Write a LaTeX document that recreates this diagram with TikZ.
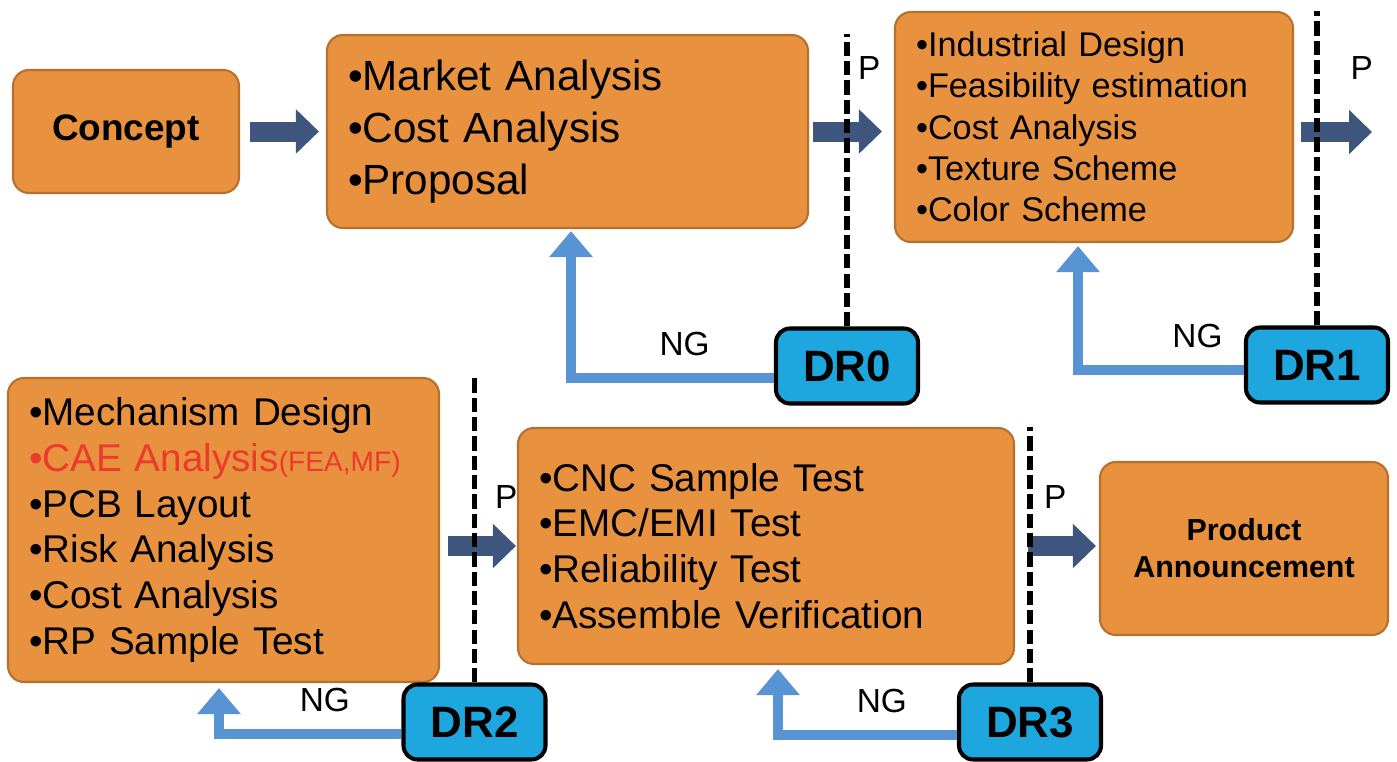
\documentclass[tikz,border=0pt]{standalone}
\usepackage{fontspec}
\setmainfont{Liberation Sans}
\usetikzlibrary{arrows.meta}
\definecolor{boxorange}{RGB}{232,145,62}
\definecolor{boxedge}{RGB}{184,112,46}
\definecolor{drblue}{RGB}{30,167,222}
\definecolor{passblue}{RGB}{62,85,125}
\definecolor{ngblue}{RGB}{88,148,212}
\definecolor{caered}{RGB}{236,58,44}

\begin{document}
\begin{tikzpicture}[
  stage/.style={draw=boxedge,fill=boxorange,line width=1.2pt,rounded corners=.32cm,
    inner xsep=.42cm,inner ysep=0pt,align=left},
  review/.style={draw=black,fill=drblue,line width=2.3pt,rounded corners=.28cm,
    font=\fontsize{25}{30}\selectfont\bfseries,minimum width=2.84cm,minimum height=1.5cm},
  passarrow/.style={passblue,line width=.4cm,-{Triangle[width=.86cm,length=.46cm]}},
  ngarrow/.style={ngblue,line width=.2cm,-{Triangle[width=.84cm,length=.52cm]}},
  gate/.style={line width=3pt,dash pattern=on 8pt off 3pt},
  lbl/.style={text=black,font=\fontsize{19}{23}\selectfont,inner sep=0pt}]
  \useasboundingbox (0,0) rectangle (27.94,-15.24);

  \node[stage,minimum width=4.52cm,minimum height=2.46cm,align=center,
    font=\fontsize{21}{25}\selectfont\bfseries] (concept) at (2.52,-2.63) {Concept};
  \node[stage,text width=8.78cm,minimum height=3.86cm,font=\fontsize{24}{29.5}\selectfont]
    (market) at (11.35,-2.63) {•Market Analysis\\•Cost Analysis\\•Proposal};
  \node[stage,text width=7.12cm,minimum height=4.6cm,font=\fontsize{19.5}{23.5}\selectfont]
    (industrial) at (21.88,-2.54) {•Industrial Design\\•Feasibility estimation\\
    •Cost Analysis\\•Texture Scheme\\•Color Scheme};
  \node[stage,text width=7.78cm,minimum height=6.08cm,font=\fontsize{22}{26}\selectfont]
    (mech) at (4.47,-10.6) {•Mechanism Design\\
    {\color{caered}•CAE Analysis{\fontsize{16}{26}\selectfont(FEA,MF)}}\\
    •PCB Layout\\•Risk Analysis\\•Cost Analysis\\•RP Sample Test};
  \node[stage,text width=9.08cm,minimum height=4.72cm,font=\fontsize{22}{26}\selectfont]
    (test) at (15.32,-10.92) {•CNC Sample Test\\•EMC/EMI Test\\•Reliability Test\\
    •Assemble Verification};
  \node[stage,minimum width=5.76cm,minimum height=3.46cm,align=center,
    font=\fontsize{17.3}{21}\selectfont\bfseries] (product) at (24.88,-10.97)
    {Product\\Announcement};

  \node[review] (dr0) at (16.94,-7.32) {DR0};
  \node[review] (dr1) at (26.34,-7.30) {DR1};
  \node[review] (dr2) at (9.49,-14.44) {DR2};
  \node[review] (dr3) at (20.6,-14.44) {DR3};
  \coordinate (next) at (27.44,-2.64);

  \draw[passarrow,shorten <=.2cm,shorten >=.14cm] (concept) -- (market);
  \draw[passarrow,shorten <=.08cm,shorten >=.24cm] (market.east)
    -- node[lbl,pos=.71,above=24pt] {P} (market.east -| industrial.west);
  \draw[passarrow,shorten <=.14cm] (industrial.east |- next)
    -- node[lbl,pos=.87,above=24pt] {P} (next);
  \draw[passarrow,shorten <=.16cm,shorten >=.02cm] (mech.east |- test.west)
    -- node[lbl,pos=.86,above=15.6pt] {P} (test.west);
  \draw[passarrow,shorten <=.26cm,shorten >=.06cm] (test.east)
    -- node[lbl,pos=.48,above=15.6pt] {P} (test.east -| product.west);

  \draw[ngarrow,shorten >=.04cm] ([yshift=-.24cm]dr0.west)
    -| node[lbl,pos=.22,above=10pt] {NG} ([xshift=.07cm]market.south);
  \draw[ngarrow,shorten >=.06cm] ([yshift=-.1cm]dr1.west)
    -| node[lbl,pos=.14,above=10pt] {NG} ([xshift=-.32cm]industrial.south);
  \draw[ngarrow,shorten >=.1cm] ([yshift=-.24cm]dr2.west)
    -| node[lbl,pos=.21,above=10pt] {NG} ([xshift=-.09cm]mech.south);
  \draw[ngarrow,shorten >=.08cm] ([yshift=-.26cm]dr3.west)
    -| node[lbl,pos=.21,above=10pt] {NG} ([xshift=.24cm]test.south);

  \draw[gate] (dr0.north) -- (dr0.north |- market.north);
  \draw[gate] (dr1.north) -- (dr1.north |- industrial.north);
  \draw[gate] (dr2.north) -- (dr2.north |- mech.north);
  \draw[gate] (dr3.north) -- (dr3.north |- test.north);
\end{tikzpicture}
\end{document}
